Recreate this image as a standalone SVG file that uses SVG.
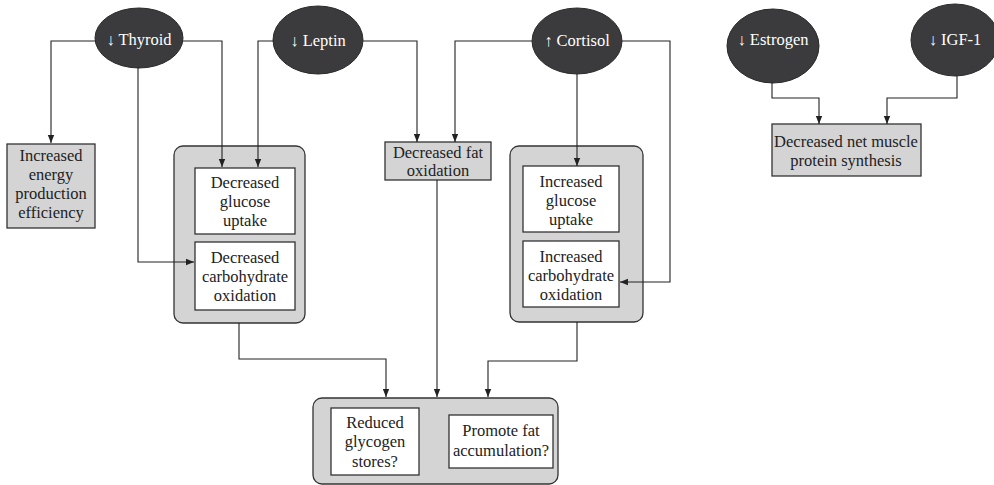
<svg xmlns="http://www.w3.org/2000/svg" width="994" height="485" viewBox="0 0 994 485">
  <style>
    .hormone { fill: #3b3b3d; stroke: #2a2a2a; stroke-width: 1; }
    .hlabel { font-family: "Liberation Serif", serif; font-size: 16.5px; fill: #ffffff; text-anchor: middle; }
    .effect { fill: #d4d4d4; stroke: #333333; stroke-width: 1.3; }
    .group { fill: #d4d4d4; stroke: #333333; stroke-width: 1.3; }
    .inner { fill: #ffffff; stroke: #333333; stroke-width: 1.3; }
    .label { font-family: "Liberation Serif", serif; font-size: 16.5px; fill: #222222; text-anchor: middle; }
    .link { fill: none; stroke: #222222; stroke-width: 1.1; marker-end: url(#arrow); }
  </style>
  <defs>
    <marker id="arrow" viewBox="0 0 8 8" refX="8" refY="4" markerWidth="8" markerHeight="8" markerUnits="userSpaceOnUse" orient="auto">
      <path d="M0,0.8 L8,4 L0,7.2 Z" fill="#222222"/>
    </marker>
  </defs>
  <rect width="994" height="485" fill="#ffffff"/>

  <!-- hormones -->
  <g id="thyroid">
    <ellipse class="hormone" cx="139" cy="38" rx="44" ry="30"/>
    <text class="hlabel" x="139" y="45">↓ Thyroid</text>
  </g>
  <g id="leptin">
    <ellipse class="hormone" cx="318" cy="40" rx="45" ry="34"/>
    <text class="hlabel" x="318" y="46">↓ Leptin</text>
  </g>
  <g id="cortisol">
    <ellipse class="hormone" cx="577" cy="41" rx="45" ry="33"/>
    <text class="hlabel" x="577" y="46">↑ Cortisol</text>
  </g>
  <g id="estrogen">
    <ellipse class="hormone" cx="773" cy="46" rx="46" ry="37"/>
    <text class="hlabel" x="773" y="45">↓ Estrogen</text>
  </g>
  <g id="igf1">
    <ellipse class="hormone" cx="955" cy="40" rx="44" ry="36"/>
    <text class="hlabel" x="955" y="45">↓ IGF-1</text>
  </g>

  <!-- effects -->
  <g id="energy-efficiency">
    <rect class="effect" x="7" y="144" width="88" height="84"/>
    <text class="label" x="51" y="161">Increased</text>
    <text class="label" x="51" y="180">energy</text>
    <text class="label" x="51" y="199">production</text>
    <text class="label" x="51" y="218">efficiency</text>
  </g>

  <g id="decreased-group">
    <rect class="group" x="174" y="146" width="131" height="177" rx="9"/>
    <g id="decreased-glucose-uptake">
      <rect class="inner" x="195" y="168" width="100" height="66"/>
      <text class="label" x="245" y="188">Decreased</text>
      <text class="label" x="245" y="207">glucose</text>
      <text class="label" x="245" y="226">uptake</text>
    </g>
    <g id="decreased-carb-oxidation">
      <rect class="inner" x="195" y="242" width="100" height="68"/>
      <text class="label" x="245" y="263">Decreased</text>
      <text class="label" x="245" y="282">carbohydrate</text>
      <text class="label" x="245" y="301">oxidation</text>
    </g>
  </g>

  <g id="decreased-fat-oxidation">
    <rect class="effect" x="385" y="142" width="106" height="38"/>
    <text class="label" x="438" y="158">Decreased fat</text>
    <text class="label" x="438" y="176">oxidation</text>
  </g>

  <g id="increased-group">
    <rect class="group" x="510" y="146" width="133" height="176" rx="9"/>
    <g id="increased-glucose-uptake">
      <rect class="inner" x="523" y="166" width="96" height="66"/>
      <text class="label" x="571" y="187">Increased</text>
      <text class="label" x="571" y="206">glucose</text>
      <text class="label" x="571" y="225">uptake</text>
    </g>
    <g id="increased-carb-oxidation">
      <rect class="inner" x="523" y="241" width="96" height="66"/>
      <text class="label" x="571" y="262">Increased</text>
      <text class="label" x="571" y="281">carbohydrate</text>
      <text class="label" x="571" y="300">oxidation</text>
    </g>
  </g>

  <g id="muscle-protein">
    <rect class="effect" x="772" y="124" width="149" height="52"/>
    <text class="label" x="846" y="147">Decreased net muscle</text>
    <text class="label" x="846" y="166">protein synthesis</text>
  </g>

  <g id="outcome-group">
    <rect class="group" x="313" y="398" width="245" height="86" rx="9"/>
    <g id="reduced-glycogen">
      <rect class="inner" x="331" y="408" width="88" height="67"/>
      <text class="label" x="375" y="428">Reduced</text>
      <text class="label" x="375" y="447">glycogen</text>
      <text class="label" x="375" y="467">stores?</text>
    </g>
    <g id="fat-accumulation">
      <rect class="inner" x="449" y="415" width="104" height="53"/>
      <text class="label" x="501" y="436">Promote fat</text>
      <text class="label" x="501" y="456">accumulation?</text>
    </g>
  </g>

  <!-- connectors, drawn last so they run over the grey group panels -->
  <g id="connectors">
    <!-- thyroid -->
    <path class="link" d="M96,41 H51 V143"/>
    <path class="link" d="M182,41 H222 V167"/>
    <path class="link" d="M138,67 V262 H194"/>
    <!-- leptin -->
    <path class="link" d="M274,41 H258 V167"/>
    <path class="link" d="M363,41 H417 V142"/>
    <!-- cortisol -->
    <path class="link" d="M532,41 H455 V142"/>
    <path class="link" d="M577,74 V166"/>
    <path class="link" d="M622,41 H670 V282 H620"/>
    <!-- estrogen / IGF-1 -->
    <path class="link" d="M772,82 V98 H819 V124"/>
    <path class="link" d="M957,75 V98 H887 V124"/>
    <!-- towards outcome group -->
    <path class="link" d="M239,323 V359 H386 V397"/>
    <path class="link" d="M437,180 V397"/>
    <path class="link" d="M577,322 V361 H488 V397"/>
  </g>
</svg>
